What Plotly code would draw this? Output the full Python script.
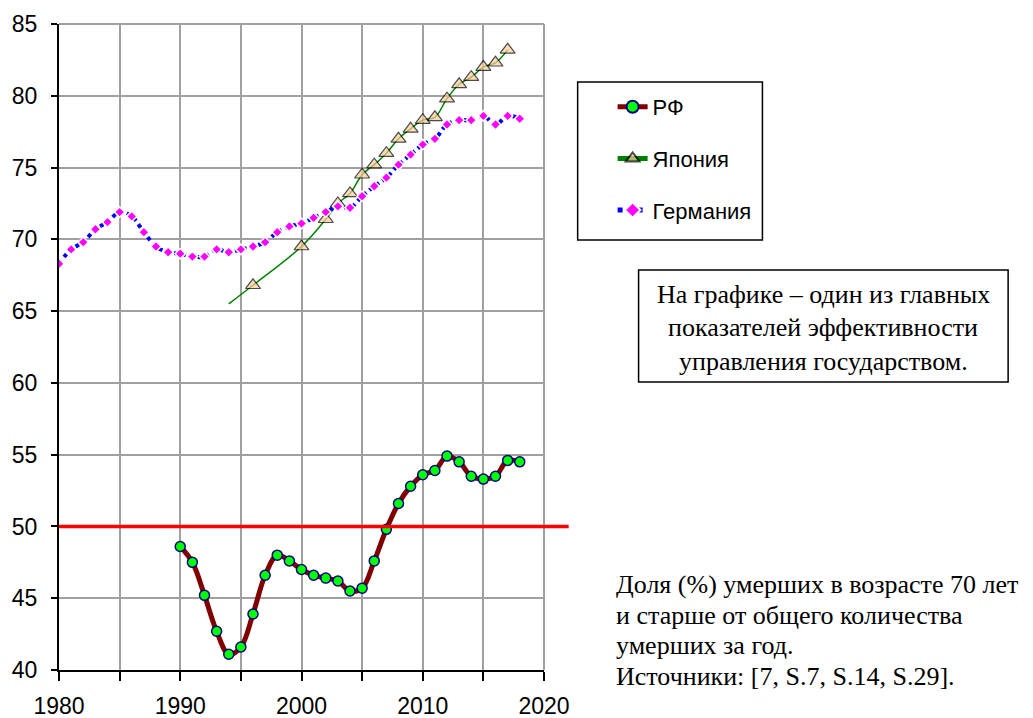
"""
Share (%) of deaths at age 70+ in total deaths per year: Russia, Japan, Germany.
"""
import plotly.graph_objects as go

# Data
rf_years = list(range(1990, 2019))
rf_values = [48.6, 47.5, 45.2, 42.7, 41.1, 41.6, 43.9, 46.6, 48.0, 47.6,
             47.0, 46.6, 46.4, 46.2, 45.5, 45.7, 47.6, 49.8, 51.6, 52.8,
             53.6, 53.9, 54.9, 54.5, 53.5, 53.3, 53.5, 54.6, 54.5]

japan_years = [1994, 1996, 2000, 2002, 2003, 2004, 2005, 2006, 2007, 2008,
               2009, 2010, 2011, 2012, 2013, 2014, 2015, 2016, 2017]
japan_values = [65.5, 66.8, 69.5, 71.4, 72.5, 73.2, 74.5, 75.2, 76.0, 77.0,
                77.7, 78.3, 78.5, 79.8, 80.8, 81.3, 82.0, 82.3, 83.2]
# the 1994 point only starts the line, it has no marker
japan_marker_sizes = [0] + [13] * (len(japan_years) - 1)

germany_years = list(range(1980, 2019))
germany_values = [68.3, 69.3, 69.8, 70.7, 71.2, 71.9, 71.6, 70.5, 69.5, 69.1,
                  69.0, 68.8, 68.8, 69.3, 69.1, 69.3, 69.5, 69.8, 70.5, 70.9,
                  71.1, 71.5, 71.9, 72.3, 72.2, 73.0, 73.7, 74.3, 75.2, 75.9,
                  76.6, 77.0, 78.0, 78.3, 78.3, 78.6, 78.0, 78.6, 78.4]

threshold = 50

x_tick_values = list(range(1980, 2021, 5))
x_tick_labels = ['1980', '', '1990', '', '2000', '', '2010', '', '2020']

note_lines = ['На графике – один из главных',
              'показателей эффективности',
              'управления государством.']
source_lines = ['Доля (%) умерших в возрасте 70 лет',
                'и старше от общего количества',
                'умерших за год.',
                'Источники: [7, S.7, S.14, S.29].']

# plot area in pixels
W, H = 1033, 718
LEFT, RIGHT, TOP, BOTTOM = 58.7, 544.3, 24, 670
SERIF = 'Liberation Serif'
SANS = 'Liberation Sans'


def px_x(px: float) -> float:
    """Pixel x to paper x."""
    return (px - LEFT) / (RIGHT - LEFT)


def px_y(py: float) -> float:
    """Pixel y to paper y."""
    return (BOTTOM - py) / (BOTTOM - TOP)


fig = go.Figure()

fig.add_trace(go.Scatter(
    x=rf_years, y=rf_values, name='РФ', mode='lines+markers',
    line=dict(color='#800000', width=5, shape='spline'),
    marker=dict(symbol='circle', size=10, color='#00FF00',
                line=dict(color='#000080', width=1.5)),
    legendgroup='rf'))

fig.add_trace(go.Scatter(
    x=japan_years, y=japan_values, name='Япония', mode='lines+markers',
    line=dict(color='#008000', width=1.5, shape='spline'),
    marker=dict(symbol='triangle-up', size=japan_marker_sizes, color='#FFCC99',
                line=dict(color='black', width=1.2)),
    legendgroup='japan'))

fig.add_trace(go.Scatter(
    x=germany_years, y=germany_values, name='Германия', mode='lines+markers',
    line=dict(color='#0000FF', width=4, dash='dot', shape='spline'),
    marker=dict(symbol='diamond', size=8, color='#FF00FF',
                line=dict(color='white', width=1.5)),
    legendgroup='germany'))

# red 50% line, runs a little past the plot area
fig.add_shape(type='line', xref='paper', yref='y',
              x0=0, x1=px_x(569), y0=threshold, y1=threshold,
              line=dict(color='#FF0000', width=3.5), layer='above')

# gray frame on top and right sides of the plot
fig.add_shape(type='line', xref='paper', yref='paper', x0=0, x1=1, y0=1, y1=1,
              line=dict(color='#A0A0A0', width=2), layer='below')
fig.add_shape(type='line', xref='paper', yref='paper', x0=1, x1=1, y0=0, y1=1,
              line=dict(color='#A0A0A0', width=2), layer='below')

# legend frame (drawn separately so it can be wider than the entries)
fig.add_shape(type='rect', xref='paper', yref='paper',
              x0=px_x(578), x1=px_x(763), y0=px_y(240), y1=px_y(82),
              line=dict(color='black', width=1.5), fillcolor='white')

# framed note
fig.add_shape(type='rect', xref='paper', yref='paper',
              x0=px_x(639), x1=px_x(1009), y0=px_y(382), y1=px_y(270),
              line=dict(color='black', width=1.5), fillcolor='white')
for i, line in enumerate(note_lines):
    fig.add_annotation(
        text=line, xref='paper', yref='paper',
        x=px_x(824), y=px_y(294.5 + i * 33.3), xanchor='center', yanchor='middle',
        showarrow=False, font=dict(family=SERIF, size=26, color='black'))

# source text under the note
for i, line in enumerate(source_lines):
    fig.add_annotation(
        text=line, xref='paper', yref='paper',
        x=px_x(614), y=px_y(584.5 + i * 30.6), xanchor='left', yanchor='middle',
        showarrow=False, font=dict(family=SERIF, size=26, color='black'))

fig.update_xaxes(
    range=[1980, 2020], tickvals=x_tick_values, ticktext=x_tick_labels,
    showgrid=True, gridcolor='#A0A0A0', gridwidth=1.5,
    showline=True, linecolor='black', linewidth=2,
    ticks='outside', ticklen=9, tickcolor='black', tickwidth=1.5,
    ticklabelstandoff=5,
    tickfont=dict(family=SANS, size=23, color='black'),
    zeroline=False, fixedrange=True)

fig.update_yaxes(
    range=[40, 85], dtick=5,
    showgrid=True, gridcolor='#A0A0A0', gridwidth=1.5,
    showline=True, linecolor='black', linewidth=2,
    ticks='outside', ticklen=6, tickcolor='black', tickwidth=1.5,
    ticklabelstandoff=9,
    tickfont=dict(family=SANS, size=23, color='black'),
    zeroline=False, fixedrange=True)

fig.update_layout(
    width=W, height=H,
    margin=dict(l=LEFT, r=W - RIGHT, t=TOP, b=H - BOTTOM, autoexpand=False),
    paper_bgcolor='white', plot_bgcolor='white',
    showlegend=True,
    legend=dict(x=px_x(613), y=px_y(86), xanchor='left', yanchor='top',
                bgcolor='rgba(0,0,0,0)', borderwidth=0,
                font=dict(family=SANS, size=22, color='black'),
                traceorder='grouped', tracegroupgap=20, itemsizing='constant'))

# page body has an 8px margin by default, drop it so the figure sits at 0,0
fig.write_html("out.html", config={'displayModeBar': False},
               post_script="document.body.style.margin = '0';")
